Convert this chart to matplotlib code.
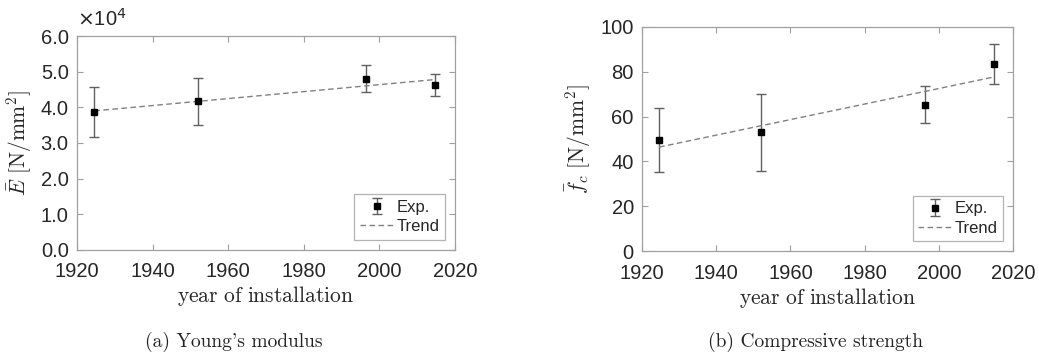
import matplotlib
matplotlib.use("Agg")
import matplotlib.pyplot as plt
import numpy as np

plt.rcParams['mathtext.fontset'] = 'cm'
plt.rcParams['font.family'] = ['Liberation Sans', 'DejaVu Sans']
plt.rcParams['axes.unicode_minus'] = False

# Data
years = [1924.6, 1952.1, 1996.4, 2014.8]
E_mean = [3.87, 4.17, 4.80, 4.63]          # x 1e4 N/mm^2
E_upper = [4.56, 4.83, 5.20, 4.94]
E_lower = [3.17, 3.50, 4.43, 4.31]
E_trend_x = [1924.6, 2014.8]
E_trend_y = [3.90, 4.78]

fc_mean = [49.6, 53.1, 65.3, 83.3]
fc_upper = [63.8, 70.2, 73.7, 92.3]
fc_lower = [35.4, 35.9, 57.0, 74.5]
fc_trend_x = [1924.6, 2014.8]
fc_trend_y = [46.4, 77.6]

xticks = [1920, 1940, 1960, 1980, 2000, 2020]
E_yticks = [0, 1, 2, 3, 4, 5, 6]
fc_yticks = [0, 20, 40, 60, 80, 100]

fig = plt.figure(figsize=(10.39, 3.54), dpi=100)
axL = fig.add_axes([0.0741, 0.2938, 0.3638, 0.6045])
axR = fig.add_axes([0.618, 0.290, 0.357, 0.6346])

TXT = '#262626'
SPINE = '#a0a0a0'
EB = '#606060'

def style(ax):
    for s in ax.spines.values():
        s.set_color(SPINE)
        s.set_linewidth(0.9)
    ax.tick_params(direction='in', top=True, right=True, length=4, width=0.8,
                   color=SPINE, labelcolor=TXT, labelsize=14.5)
    ax.tick_params(axis='x', pad=9)
    ax.tick_params(axis='y', pad=6)
    ax.set_xlabel(r'$\mathrm{year\ of\ installation}$', fontsize=15.5,
                  color=TXT, labelpad=2)

def draw(ax, m, up, lo, tx, ty):
    m = np.array(m); up = np.array(up); lo = np.array(lo)
    yerr = [m - lo, up - m]
    h1 = ax.errorbar(years, m, yerr=yerr, fmt='s', color='black', ms=4.5,
                     ecolor=EB, elinewidth=1.0, capsize=3.5, capthick=1.0)
    h2, = ax.plot(tx, ty, '--', color='#808080', lw=1.0, dashes=(4, 2.5))
    leg = ax.legend([h1, h2], ['Exp.', 'Trend'], loc='lower right', fontsize=12,
                    frameon=True, fancybox=False,
                    edgecolor=SPINE, handlelength=2.0, handletextpad=0.15,
                    borderpad=0.35, labelspacing=0.25, borderaxespad=0.6)
    leg.get_frame().set_linewidth(0.9)
    for t in leg.get_texts():
        t.set_color(TXT)

draw(axL, E_mean, E_upper, E_lower, E_trend_x, E_trend_y)
axL.set_xlim(1920, 2020)
axL.set_ylim(0, 6)
axL.set_xticks(xticks)
axL.set_yticks(E_yticks)
axL.set_yticklabels([f'{v:.1f}' for v in E_yticks])
style(axL)
axL.set_ylabel(r'$\bar{E}\ [\mathrm{N/mm^2}]$', fontsize=15.5, color=TXT, labelpad=5)
axL.text(0.0, 1.03, r'$\times$10$^4$', transform=axL.transAxes, fontsize=14.5,
         color=TXT, ha='left', va='bottom', math_fontfamily='dejavusans')

draw(axR, fc_mean, fc_upper, fc_lower, fc_trend_x, fc_trend_y)
axR.set_xlim(1920, 2020)
axR.set_ylim(0, 100)
axR.set_xticks(xticks)
axR.set_yticks(fc_yticks)
style(axR)
axR.set_ylabel(r'$\bar{f}_c\ [\mathrm{N/mm^2}]$', fontsize=15.5, color=TXT, labelpad=5)

fig.text(234 / 1039, 1 - 347 / 354, "(a) Young's modulus", fontsize=14,
         family='cmr10', ha='center', va='baseline', color='#222222')
fig.text(815 / 1039, 1 - 347 / 354, "(b) Compressive strength", fontsize=14,
         family='cmr10', ha='center', va='baseline', color='#222222')

fig.savefig('out.png', dpi=100)
